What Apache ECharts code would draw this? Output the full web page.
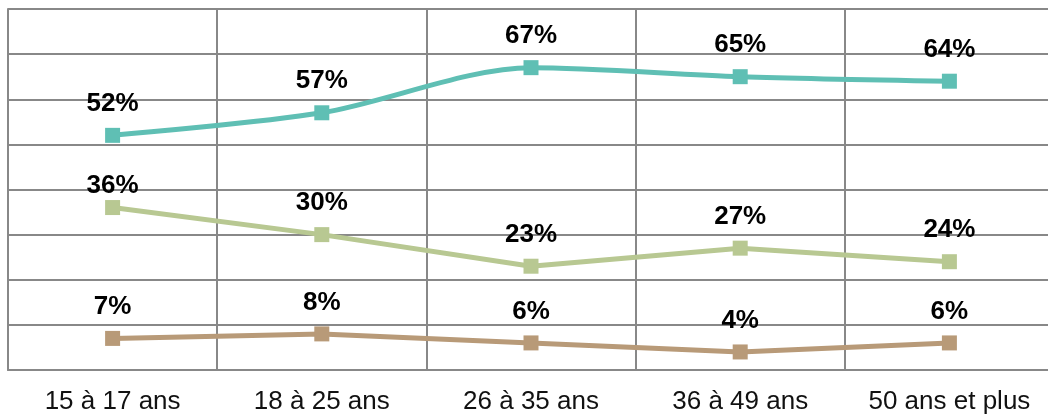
<!DOCTYPE html>
<html>
<head>
<meta charset="utf-8">
<script src="https://cdn.jsdelivr.net/npm/echarts@6/dist/echarts.min.js"></script>
<style>html,body{margin:0;padding:0;background:#fff;overflow:hidden}#c{width:1060px;height:415px}</style>
</head>
<body>
<div id="c"></div>
<script>
const categories = ['15 à 17 ans', '18 à 25 ans', '26 à 35 ans', '36 à 49 ans', '50 ans et plus'];
const tealValues = [52, 57, 67, 65, 64];
const greenValues = [36, 30, 23, 27, 24];
const brownValues = [7, 8, 6, 4, 6];

const chart = echarts.init(document.getElementById('c'), null, {renderer: 'canvas'});
const font = 'Liberation Sans, Arial, sans-serif';
function mk(name, vals, color, smooth, special) {
  return {
    name: name, type: 'line', smooth: smooth,
    symbol: 'rect', symbolSize: 15,
    lineStyle: {width: 5, color: color},
    itemStyle: {color: color},
    label: {show: true, position: 'top', distance: 11, formatter: '{c}%',
      fontFamily: font, fontSize: 26, fontWeight: 'bold', color: '#000'},
    data: vals.map((v, i) => (special && special[i] !== undefined)
      ? {value: v, label: {distance: special[i]}} : v),
    animation: false
  };
}
chart.setOption({
  animation: false,
  grid: {left: 8, top: 9, width: 1046, height: 361, outerBoundsMode: 'none'},
  xAxis: {
    type: 'category', data: categories, boundaryGap: true,
    axisLine: {show: true, lineStyle: {color: '#888', width: 2}},
    axisTick: {show: false},
    axisLabel: {fontFamily: font, fontSize: 26, color: '#111', margin: 19, interval: 0},
    splitLine: {show: true, interval: 0, lineStyle: {color: '#888', width: 2}}
  },
  yAxis: {
    type: 'value', min: 0, max: 80, interval: 10,
    axisLine: {show: true, lineStyle: {color: '#888', width: 2}},
    axisTick: {show: false}, axisLabel: {show: false},
    splitLine: {show: true, lineStyle: {color: '#888', width: 2}}
  },
  series: [
    mk('a', tealValues, '#5fbfb4', 0.3),
    mk('b', greenValues, '#b8c892', false, {0: 1}),
    mk('c', brownValues, '#b89a78', false)
  ]
});
</script>
</body>
</html>
